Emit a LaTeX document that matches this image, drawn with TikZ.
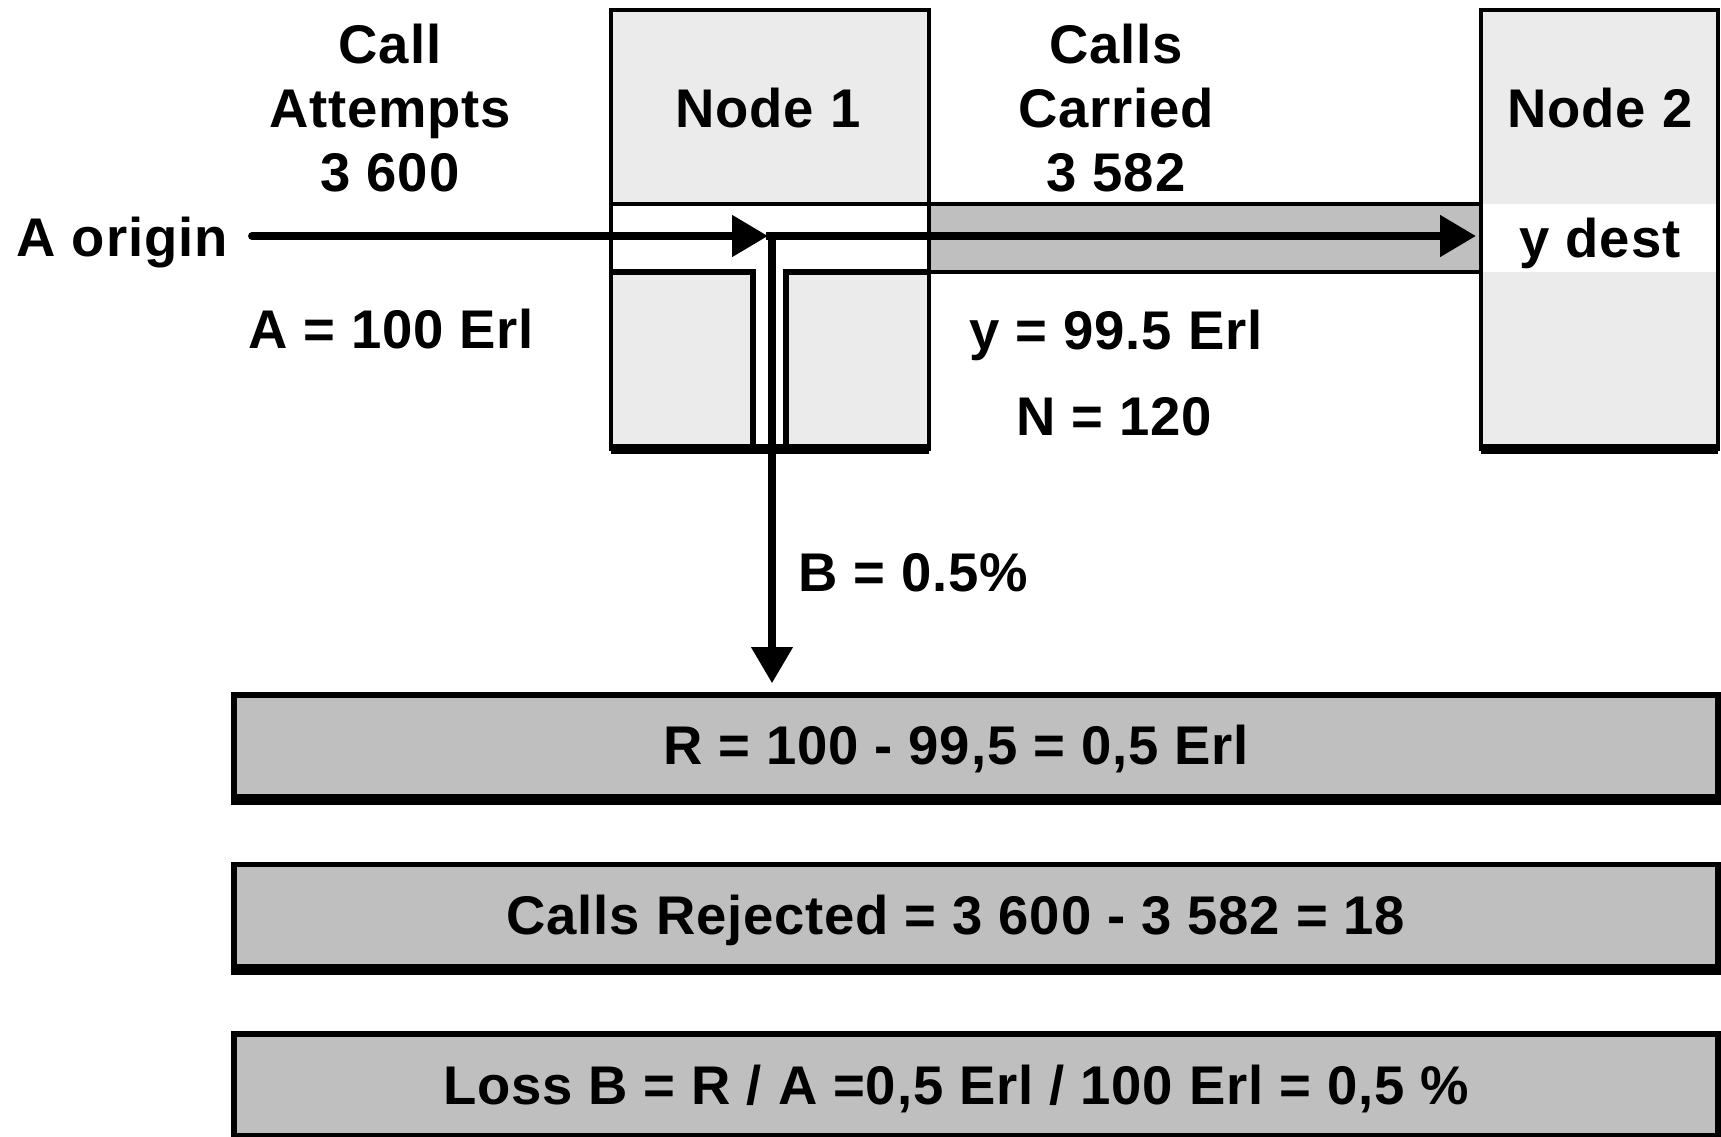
\documentclass[tikz,border=0pt]{standalone}
\usepackage{fontspec}
\setmainfont{Liberation Sans}[LetterSpace=1.5]
\usepackage{tikz}
\usetikzlibrary{positioning}
\usetikzlibrary{arrows.meta}

\begin{document}
\begin{tikzpicture}
    [%%%%%%%%%%%%%%%%%%%%%%%%%%%%%%
        txt/.style={font=\fontsize{15.5pt}{18.2pt}\selectfont\bfseries, inner sep=0pt, text height=10.7pt, text depth=0pt},
        stack/.style={font=\fontsize{15.5pt}{18.2pt}\selectfont\bfseries, inner sep=0pt, align=center, anchor=north},
        shade/.style={fill=black!8},
        edge/.style={draw=black, line width=1.3pt},
        channel/.style={draw=black, line width=1.3pt, fill=black!25},
        sumbox/.style={rectangle, draw=black, line width=1.6pt, fill=black!25, minimum width=14.84cm, minimum height=1.02cm},
        flow/.style={line width=2.3pt, -{Triangle[length=0.36cm,width=0.40cm]}}
    ]%%%%%%%%%%%%%%%%%%%%%%%%%%%%%%
\clip (0,0) rectangle (17.21,11.36);

% node 1, cut open by the trunk group
\fill[shade] (6.11,6.87) rectangle (9.29,11.26);
\fill[white] (6.11,8.64) rectangle (9.29,9.32);
\fill[white] (7.53,6.87) rectangle (7.86,8.64);
\draw[edge] (6.11,9.32) -- (9.29,9.32);
\draw[line width=1.6pt] (6.11,8.64) -- (7.53,8.64) -- (7.53,6.87);
\draw[line width=1.6pt] (7.86,6.87) -- (7.86,8.64) -- (9.29,8.64);
\draw[edge] (6.11,6.87) rectangle (9.29,11.26);
\draw[line width=3pt] (6.11,6.87) -- (9.29,6.87);

% node 2
\fill[shade] (14.81,6.87) rectangle (17.18,11.26);
\fill[white] (14.81,8.64) rectangle (17.18,9.32);
\draw[edge] (14.81,6.87) rectangle (17.18,11.26);
\draw[line width=3pt] (14.81,6.87) -- (17.18,6.87);

% trunk group between the nodes
\filldraw[channel] (9.29,8.64) rectangle (14.81,9.32);

\node[txt] (n1) at (7.68,10.27) {Node 1};
\node[txt] (n2) at (16.00,10.27) {Node 2};
\node[txt] (dest) at (16.00,8.97) {y dest};
\node[txt, anchor=west] (org) at (0.16,8.98) {A origin};
\node[stack] (att) at (3.90,11.13) {Call\\Attempts\\3 600};
\node[stack] (car) at (11.16,11.13) {Calls\\Carried\\3 582};
\node[txt] (offered) at (3.91,8.06) {A = 100 Erl};
\node[txt] (carried) at (11.16,8.05) {y = 99.5 Erl};
\node[txt] (trunks) at (11.14,7.19) {N = 120};
\node[txt, anchor=west] (block) at (7.98,5.63) {B = 0.5\%};

% results
\node[sumbox] (lost) at (9.76,3.90) {};
\node[sumbox, below=0.62cm of lost] (rej) {};
\node[sumbox, below=0.62cm of rej] (loss) {};
\foreach \b in {lost,rej}
    \draw[line width=3pt] (\b.south west) -- (\b.south east);
\node[txt] (losttxt) at ([xshift=-0.2cm]lost.center) {R = 100 - 99,5 = 0,5 Erl};
\node[txt] (rejtxt) at ([xshift=-0.2cm]rej.center) {Calls Rejected = 3 600 - 3 582 = 18};
\node[txt] (losstxt) at ([xshift=-0.2cm]loss.center) {Loss B = R / A =0,5 Erl / 100 Erl = 0,5 \%};

% traffic flow
\coordinate (jn) at (7.72,9.00);
\coordinate (n2in) at (14.81,9.00);
\draw[flow, line cap=round] ([xshift=0.24cm]org.east |- jn) -- ([xshift=-0.04cm]jn);
\draw[flow] ([xshift=-0.06cm]jn) -- ([xshift=-0.05cm]n2in);
\draw[flow, line width=2pt] (jn) -- ([yshift=0.09cm]jn |- lost.north);

\end{tikzpicture}
\end{document}
